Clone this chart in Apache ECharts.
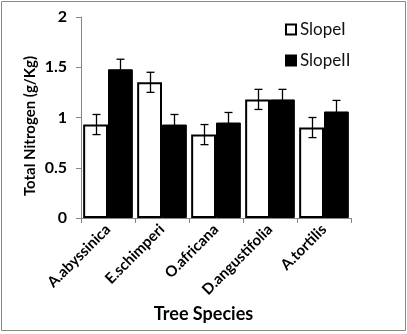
<!DOCTYPE html>
<html>
<head>
<meta charset="utf-8">
<script src="https://cdn.jsdelivr.net/npm/echarts@6/dist/echarts.min.js"></script>
<style>
  html, body { margin: 0; padding: 0; background: #fff; }
  #main { width: 407px; height: 334px; }
</style>
</head>
<body>
<div id="main"></div>
<script>
  // 树种
  var species = ['A.abyssinica', 'E.schimperi', 'O.africana', 'D.angustifolia', 'A.tortilis'];
  var slope1 = [0.93, 1.35, 0.83, 1.18, 0.90];
  var slope2 = [1.48, 0.93, 0.95, 1.18, 1.06];
  // 误差 (±)
  var err1 = [0.10, 0.10, 0.10, 0.10, 0.10];
  var err2 = [0.10, 0.10, 0.10, 0.10, 0.11];
  var yTicks = ['0', '0.5', '1', '1.5', '2'];

  var font = 'Lato, "Open Sans", sans-serif';
  var catGap = 0.08;

  function errorSeries(values, errs, side) {
    return {
      type: 'custom',
      z: 10,
      silent: true,
      data: values.map(function (v, i) { return [i, v - errs[i], v + errs[i]]; }),
      renderItem: function (params, api) {
        var lo = api.coord([api.value(0), api.value(1)]);
        var hi = api.coord([api.value(0), api.value(2)]);
        var band = api.size([1, 0])[0];
        var barW = band * (1 - catGap) / 2;
        var x = Math.round(lo[0] + side * barW / 2) + 0.5;
        var cap = 4;
        var style = { stroke: '#000', lineWidth: 1.3 };
        return {
          type: 'group',
          children: [
            { type: 'line', shape: { x1: x, y1: lo[1], x2: x, y2: hi[1] }, style: style },
            { type: 'line', shape: { x1: x - cap, y1: hi[1], x2: x + cap, y2: hi[1] }, style: style },
            { type: 'line', shape: { x1: x - cap, y1: lo[1], x2: x + cap, y2: lo[1] }, style: style }
          ]
        };
      }
    };
  }

  var myChart = echarts.init(document.getElementById('main'));
  var option = {
    animation: false,
    textStyle: { fontFamily: font },
    grid: { left: 81, right: 56, top: 17, bottom: 116 },
    legend: {
      orient: 'vertical',
      left: 280,
      top: 16,
      itemWidth: 10,
      itemHeight: 10,
      itemGap: 14,
      icon: 'rect',
      textStyle: { fontFamily: font, fontSize: 17, color: '#111', padding: [0, 0, 0, -1] },
      data: ['SlopeI', 'SlopeII']
    },
    xAxis: {
      type: 'category',
      data: species,
      axisLine: { lineStyle: { color: '#868686', width: 1 } },
      axisTick: { show: true, length: 5, lineStyle: { color: '#868686' } },
      axisLabel: {
        rotate: 45,
        interval: 0,
        margin: 9,
        fontFamily: font,
        fontWeight: 'bold',
        fontSize: 15,
        color: '#000'
      }
    },
    yAxis: {
      type: 'value',
      min: 0,
      max: 2,
      interval: 0.5,
      splitLine: { show: false },
      axisLine: { show: true, lineStyle: { color: '#868686', width: 1 } },
      axisTick: { show: true, length: 5, lineStyle: { color: '#868686' } },
      axisLabel: {
        margin: 14,
        fontFamily: font,
        fontWeight: 'bold',
        fontSize: 16,
        color: '#000',
        formatter: function (v) { return yTicks[Math.round(v / 0.5)]; }
      }
    },
    series: [
      {
        name: 'SlopeI',
        type: 'bar',
        data: slope1,
        barGap: '0%',
        barCategoryGap: (catGap * 100) + '%',
        itemStyle: { color: '#fff', borderColor: '#000', borderWidth: 2 }
      },
      {
        name: 'SlopeII',
        type: 'bar',
        data: slope2,
        barGap: '0%',
        barCategoryGap: (catGap * 100) + '%',
        itemStyle: { color: '#000', borderColor: '#000', borderWidth: 1 }
      },
      errorSeries(slope1, err1, -1),
      errorSeries(slope2, err2, 1)
    ],
    graphic: [
      {
        type: 'rect',
        shape: { x: 1.5, y: 1.5, width: 404, height: 329 },
        style: { fill: null, stroke: '#888', lineWidth: 1 },
        silent: true
      },
      {
        type: 'text',
        x: 30,
        y: 126,
        rotation: Math.PI / 2,
        style: {
          text: 'Total Nitrogen (g/Kg)',
          font: 'bold 15px ' + font,
          fill: '#000',
          align: 'center',
          verticalAlign: 'middle'
        }
      },
      {
        type: 'text',
        left: 'center',
        top: 305,
        style: { text: 'Tree Species', font: 'bold 18px ' + font, fill: '#000' }
      }
    ]
  };
  myChart.setOption(option);
</script>
</body>
</html>
